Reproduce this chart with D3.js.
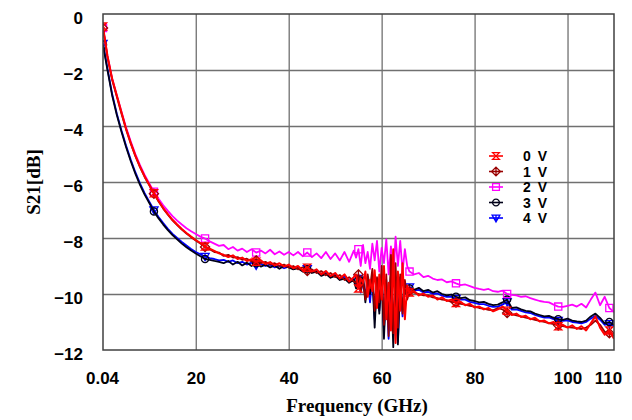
<!DOCTYPE html>
<html>
<head>
<meta charset="utf-8">
<script src="https://cdn.jsdelivr.net/npm/d3@7"></script>
<style>
body { margin: 0; background: #fff; }
</style>
</head>
<body>
<div id="plot"></div>
<script>
// frequency samples (GHz)
var freq = [
  0.04,
  1, 2, 3, 4, 5, 6, 7, 8, 9, 10,
  11, 12, 13, 14, 15, 16, 17, 18, 19, 20,
  21, 22, 23, 24, 25, 26, 27, 28, 29, 30,
  31, 32, 33, 34, 35, 36, 37, 38, 39, 40,
  41, 42, 43, 44, 45, 46, 47, 48, 49, 50,
  51, 52, 53, 54,
  54.5, 55, 55.5, 56, 56.5, 57, 57.5, 58, 58.5, 59, 59.5, 60,
  60.5, 61, 61.5, 62, 62.5, 63, 63.5, 64, 64.5, 65, 65.5, 66,
  67, 68, 69, 70, 71, 72, 73, 74, 75, 76,
  77, 78, 79, 80, 81, 82, 83, 84, 85, 86,
  87, 88, 89, 90, 91, 92, 93, 94, 95, 96,
  97, 98, 99, 100, 101, 102, 103, 104, 105, 106,
  107, 108, 109, 110
];

// S21 (dB) per bias voltage
var s21_0V = [
  -0.45,
  -1.5, -2.3, -2.9, -3.5, -4.1, -4.6, -5.05, -5.45, -5.8, -6.1,
  -6.4, -6.68, -6.93, -7.15, -7.35, -7.52, -7.68, -7.82, -7.95, -8.07,
  -8.18, -8.3, -8.38, -8.46, -8.55, -8.6, -8.68, -8.62, -8.75, -8.7,
  -8.82, -8.76, -8.85, -8.8, -8.93, -8.86, -8.98, -8.9, -9.02, -8.95,
  -9.08, -9.0, -9.15, -9.06, -9.2, -9.12, -9.3, -9.18, -9.36, -9.25,
  -9.45, -9.3, -9.55, -9.4,
  -9.3, -9.8, -9.45, -9.6, -9.2, -10.1, -9.5, -9.9, -9.15, -10.5, -9.3, -10.2,
  -9.0, -10.9, -9.6, -11.3, -8.4, -11.75, -9.2, -10.6, -8.9, -10.9, -9.7, -9.95,
  -9.9, -10.05, -9.98, -10.1, -10.05, -10.2, -10.12, -10.25, -10.2, -10.32,
  -10.28, -10.4, -10.35, -10.48, -10.45, -10.55, -10.5, -10.62, -10.55, -10.45,
  -10.6, -10.75, -10.7, -10.82, -10.78, -10.9, -10.85, -10.98, -10.95, -11.05,
  -11.0, -11.15, -11.1, -11.2, -11.12, -11.25, -11.15, -11.3, -11.05, -10.8,
  -11.2, -11.45, -11.3, -11.6
];
var s21_1V = [
  -0.5,
  -1.55, -2.35, -2.95, -3.55, -4.12, -4.62, -5.08, -5.47, -5.82, -6.12,
  -6.42, -6.7, -6.95, -7.17, -7.37, -7.54, -7.7, -7.84, -7.97, -8.09,
  -8.2, -8.32, -8.4, -8.5, -8.52, -8.64, -8.6, -8.7, -8.68, -8.78,
  -8.74, -8.84, -8.8, -8.9, -8.85, -8.95, -8.9, -9.0, -8.95, -9.05,
  -9.0, -9.12, -9.05, -9.18, -9.12, -9.25, -9.18, -9.33, -9.25, -9.4,
  -9.32, -9.5, -9.4, -9.55,
  -9.6, -9.3, -9.9, -9.5, -10.2, -9.3, -9.8, -9.1, -10.6, -9.4, -10.3, -9.0,
  -11.1, -9.3, -11.5, -8.6, -11.4, -8.9, -11.2, -9.3, -10.7, -9.5, -10.2, -9.9,
  -9.95, -10.0, -10.05, -10.05, -10.12, -10.15, -10.2, -10.22, -10.28, -10.3,
  -10.35, -10.38, -10.42, -10.45, -10.5, -10.52, -10.57, -10.58, -10.5, -10.55,
  -10.68, -10.72, -10.76, -10.8, -10.84, -10.88, -10.92, -10.96, -11.0, -11.04,
  -11.08, -11.12, -11.15, -11.18, -11.2, -11.22, -11.25, -11.2, -11.1, -10.95,
  -11.1, -11.35, -11.4, -11.5
];
var s21_2V = [
  -0.5,
  -1.5, -2.3, -2.9, -3.48, -4.05, -4.55, -5.0, -5.4, -5.75, -6.05,
  -6.35, -6.6, -6.83, -7.03, -7.22, -7.38, -7.52, -7.65, -7.76, -7.86,
  -7.95, -8.02, -8.12, -8.2, -8.28, -8.25, -8.4, -8.32, -8.45, -8.38,
  -8.5, -8.4, -8.52, -8.45, -8.55, -8.42, -8.58, -8.48, -8.6, -8.5,
  -8.62, -8.5, -8.65, -8.52, -8.68, -8.55, -8.72, -8.5, -8.75, -8.55,
  -8.8, -8.5, -8.85, -8.45,
  -8.7, -8.4, -9.0, -8.25, -8.9, -8.5, -9.1, -8.2, -8.8, -8.1, -9.2, -8.35,
  -8.9, -8.05, -9.3, -8.3, -9.5, -7.95, -9.0, -8.1, -9.2, -8.4, -9.0, -9.2,
  -9.3, -9.25, -9.4, -9.35, -9.45, -9.5, -9.48, -9.58, -9.55, -9.62,
  -9.68, -9.66, -9.72, -9.78, -9.82, -9.85, -9.82, -9.9, -9.92, -9.88,
  -10.0, -10.03, -10.05, -10.1, -10.08, -10.15, -10.2, -10.25, -10.28, -10.3,
  -10.38, -10.45, -10.46, -10.42, -10.38, -10.45, -10.35, -10.48, -10.2, -9.95,
  -10.4, -10.1, -10.5, -10.65
];
var s21_3V = [
  -1.1,
  -2.0, -2.9, -3.6, -4.2, -4.75, -5.25, -5.7, -6.1, -6.45, -6.75,
  -7.05, -7.3, -7.52, -7.72, -7.9, -8.05, -8.2, -8.33, -8.45, -8.55,
  -8.65, -8.75, -8.78, -8.82, -8.85, -8.9, -8.82, -8.95, -8.85, -8.98,
  -8.88, -9.0, -8.9, -9.02, -8.95, -9.05, -8.98, -9.1, -9.0, -9.05,
  -9.12, -9.08, -9.2, -9.12, -9.25, -9.2, -9.35, -9.28, -9.42, -9.35,
  -9.5, -9.45, -9.6, -9.5,
  -9.8, -9.5, -9.9, -9.4, -10.3, -9.6, -10.0, -9.3, -11.2, -9.5, -10.7, -9.4,
  -11.6, -9.6, -10.8, -9.3, -11.9, -9.5, -11.8, -9.4, -10.6, -9.8, -10.1, -9.8,
  -9.85, -9.78, -9.9, -9.85, -9.95, -9.9, -10.0, -10.05, -10.02, -10.1,
  -10.15, -10.12, -10.22, -10.25, -10.3, -10.28, -10.35, -10.4, -10.38, -10.3,
  -10.2, -10.5, -10.48, -10.55, -10.6, -10.62, -10.7, -10.75, -10.8, -10.78,
  -10.85, -10.9, -10.92, -10.88, -10.95, -10.98, -11.0, -10.95, -10.8, -10.7,
  -10.85, -11.05, -11.0, -11.1
];
var s21_4V = [
  -1.05,
  -1.95, -2.85, -3.55, -4.15, -4.7, -5.2, -5.65, -6.05, -6.4, -6.7,
  -7.0, -7.25, -7.47, -7.67, -7.85, -8.0, -8.14, -8.27, -8.39, -8.5,
  -8.58, -8.66, -8.72, -8.75, -8.8, -8.78, -8.85, -8.8, -8.9, -8.85,
  -8.95, -8.88, -8.98, -8.92, -9.0, -8.95, -9.05, -9.0, -9.08, -9.02,
  -9.1, -9.05, -9.15, -9.1, -9.22, -9.15, -9.3, -9.22, -9.38, -9.3,
  -9.45, -9.38, -9.52, -9.45,
  -9.75, -9.45, -9.95, -9.5, -10.1, -9.4, -10.3, -9.35, -10.9, -9.45, -10.6, -9.3,
  -11.3, -9.5, -11.6, -9.25, -11.5, -9.4, -11.7, -9.5, -10.8, -9.6, -10.1, -9.75,
  -9.88, -9.85, -9.95, -9.92, -10.0, -9.98, -10.06, -10.1, -10.1, -10.16,
  -10.2, -10.2, -10.28, -10.32, -10.36, -10.36, -10.42, -10.46, -10.45, -10.38,
  -10.28, -10.56, -10.55, -10.6, -10.66, -10.68, -10.75, -10.8, -10.84, -10.84,
  -10.9, -10.95, -10.96, -10.94, -11.0, -11.02, -11.05, -11.0, -10.88, -10.78,
  -10.92, -11.1, -11.06, -11.15
];

var seriesNames = ["0 V", "1 V", "2 V", "3 V", "4 V"];
var seriesValues = [s21_0V, s21_1V, s21_2V, s21_3V, s21_4V];
var markerFreqs = [0.04, 11, 22, 33, 44, 55, 66, 76, 87, 98, 109];

var xTicks = [0.04, 20, 40, 60, 80, 100, 110];
var xTickLabels = ["0.04", "20", "40", "60", "80", "100", "110"];
var yTicks = [0, -2, -4, -6, -8, -10, -12];

// styles
var colors = ["#ff0000", "#990000", "#ff00ff", "#000018", "#0000ff"];
var shapes = ["hourglass", "diamond", "square", "circle", "triangle"];

var W = 632, H = 420;
var margin = {top: 14, left: 103};
var width = 511, height = 336;

var svg = d3.select("#plot").append("svg")
    .attr("width", W)
    .attr("height", H);

var g = svg.append("g")
    .attr("transform", "translate(" + margin.left + "," + margin.top + ")");

var x = d3.scaleLinear().domain([0.04, 110]).range([0, width]);
var y = d3.scaleLinear().domain([-12, 0]).range([height, 0]);

// grid
var gx = g.append("g")
    .call(d3.axisBottom(x).tickValues([20, 40, 60, 80, 100]).tickSize(height).tickFormat(""));
var gy = g.append("g")
    .call(d3.axisLeft(y).tickValues([-2, -4, -6, -8, -10]).tickSize(-width).tickFormat(""));
[gx, gy].forEach(function(a) {
  a.select(".domain").remove();
  a.selectAll("line").attr("stroke", "#707070").attr("stroke-width", 1.3);
});

g.append("clipPath").attr("id", "clip")
  .append("rect").attr("width", width).attr("height", height);

// traces, 4 V first so 0 V ends on top
var line = d3.line()
    .x(function(d) { return x(d[0]); })
    .y(function(d) { return y(d[1]); });

var plot = g.append("g").attr("clip-path", "url(#clip)");

function markerPath(shape, s) {
  if (shape == "hourglass")
    return "M" + (-s) + "," + (-s) + "L" + s + "," + (-s) + "L" + (-s) + "," + s + "L" + s + "," + s + "Z";
  if (shape == "diamond")
    return "M0," + (-s - 1) + "L" + (s + 1) + ",0L0," + (s + 1) + "L" + (-s - 1) + ",0Z" +
           "M0," + (-s - 1) + "L0," + (s + 1);
  if (shape == "square")
    return "M" + (-s) + "," + (-s) + "H" + s + "V" + s + "H" + (-s) + "Z";
  if (shape == "circle")
    return "M" + s + ",0A" + s + "," + s + " 0 1,1 " + (-s) + ",0A" + s + "," + s + " 0 1,1 " + s + ",0Z";
  return "M" + (-s - 0.5) + "," + (-s + 0.5) + "H" + (s + 0.5) + "L0," + (s + 0.5) + "Z" +
         "M0," + (-s + 0.5) + "L0," + (s + 0.5);
}

for (var k = seriesValues.length - 1; k >= 0; k--) {
  var vals = seriesValues[k];
  var pts = freq.map(function(f, i) { return [f, vals[i]]; });
  plot.append("path")
      .datum(pts)
      .attr("fill", "none")
      .attr("stroke", colors[k])
      .attr("stroke-width", k == 0 ? 2 : 1.8)
      .attr("stroke-linejoin", "round")
      .attr("d", line);
  var mk = markerFreqs.map(function(f) { return [f, vals[freq.indexOf(f)]]; });
  plot.selectAll(null)
      .data(mk)
      .enter().append("path")
      .attr("transform", function(d) { return "translate(" + x(d[0]) + "," + y(d[1]) + ")"; })
      .attr("d", markerPath(shapes[k], 3.6))
      .attr("fill", "none")
      .attr("stroke", colors[k])
      .attr("stroke-width", 1.3);
}

// frame
g.append("rect")
    .attr("width", width)
    .attr("height", height)
    .attr("fill", "none")
    .attr("stroke", "#404040")
    .attr("stroke-width", 1.5);

// tick labels
var ax = g.append("g")
    .attr("transform", "translate(0," + height + ")")
    .call(d3.axisBottom(x).tickValues(xTicks)
      .tickFormat(function(d, i) { return xTickLabels[i]; }).tickSize(0));
ax.select(".domain").remove();
ax.selectAll("text")
    .attr("y", 34).attr("dy", 0)
    .attr("dx", function(d) { return d == 110 ? -6 : (d == 0.04 ? -1 : 0); });

var ay = g.append("g")
    .call(d3.axisLeft(y).tickValues(yTicks).tickSize(0).tickPadding(20));
ay.select(".domain").remove();
ay.selectAll("text").attr("dy", 9);

[ax, ay].forEach(function(a) {
  a.selectAll("text")
    .attr("fill", "#000")
    .style("font-family", "'Liberation Sans', Arial, sans-serif")
    .style("font-weight", "bold")
    .style("font-size", "17px");
});

// axis titles
svg.append("text")
    .attr("x", 357)
    .attr("y", 412)
    .attr("text-anchor", "middle")
    .style("font-family", "'Liberation Serif', 'Times New Roman', serif")
    .style("font-weight", "bold")
    .style("font-size", "19px")
    .text("Frequency (GHz)");

svg.append("text")
    .attr("transform", "translate(40,182) rotate(-90)")
    .attr("text-anchor", "middle")
    .style("font-family", "'Liberation Serif', 'Times New Roman', serif")
    .style("font-weight", "bold")
    .style("font-size", "19px")
    .text("S21[dB]");

// legend
var legend = svg.append("g");
var rowY = d3.scalePoint().domain(seriesNames).range([156, 218]);
seriesNames.forEach(function(name, k) {
  var ly = rowY(name);
  legend.append("line")
      .attr("x1", 489).attr("x2", 503)
      .attr("y1", ly).attr("y2", ly)
      .attr("stroke", colors[k]).attr("stroke-width", 1.6);
  legend.append("path")
      .attr("transform", "translate(496," + ly + ")")
      .attr("d", markerPath(shapes[k], 3.4))
      .attr("fill", "none")
      .attr("stroke", colors[k])
      .attr("stroke-width", 1.3);
  legend.append("text")
      .attr("x", 523)
      .attr("y", ly + 5)
      .style("font-family", "'Liberation Sans', Arial, sans-serif")
      .style("font-weight", "bold")
      .style("font-size", "14px")
      .style("word-spacing", "3px")
      .text(name);
});
</script>
</body>
</html>
